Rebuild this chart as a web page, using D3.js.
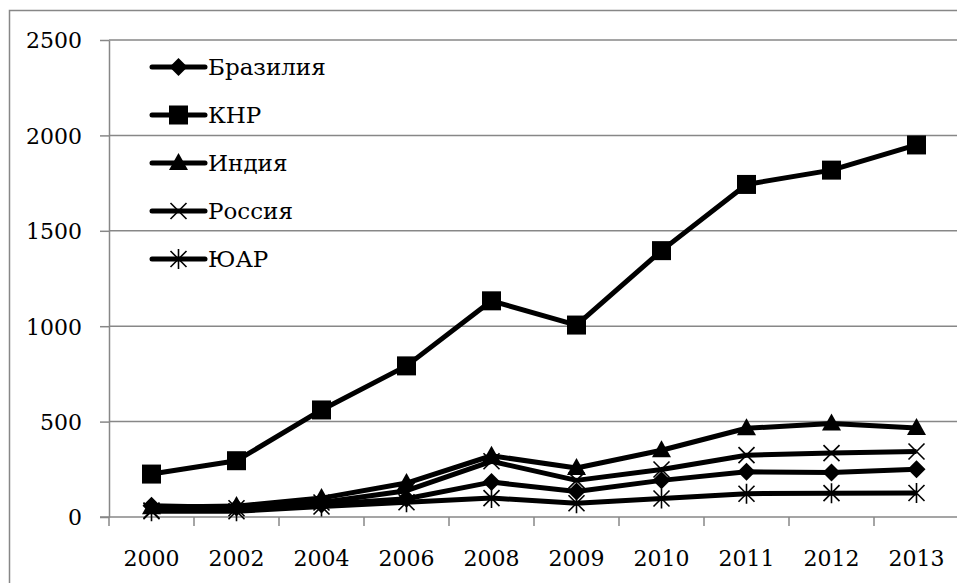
<!DOCTYPE html>
<html>
<head>
<meta charset="utf-8">
<script src="https://cdn.jsdelivr.net/npm/d3@7"></script>
<style>
  html, body { margin: 0; padding: 0; background: #fff; overflow: hidden; }
  text { font-family: "DejaVu Serif", serif; fill: #000; }
</style>
</head>
<body>
<svg id="chart" width="957" height="583"></svg>
<script>
// -------------------- DATA -------------------- //
const years = ["2000", "2002", "2004", "2006", "2008", "2009", "2010", "2011", "2012", "2013"];
const seriesNames = ["Бразилия", "КНР", "Индия", "Россия", "ЮАР"];
const brazil = [59, 50, 66, 96, 183, 134, 192, 237, 233, 250];
const china = [225, 295, 561, 792, 1133, 1006, 1396, 1743, 1818, 1950];
const india = [51, 57, 99, 178, 321, 257, 350, 465, 490, 466];
const russia = [34, 46, 76, 138, 292, 192, 249, 324, 335, 343];
const southAfrica = [30, 30, 55, 77, 99, 72, 97, 122, 125, 126];
const yTicks = [0, 500, 1000, 1500, 2000, 2500];
const markers = ["diamond", "square", "triangle", "cross", "asterisk"];

const series = [brazil, china, india, russia, southAfrica].map((vals, i) => ({
    name: seriesNames[i], marker: markers[i], values: vals
}));

// -------------------- SETUP -------------------- //
const svg = d3.select("#chart");
const GRID = "#878787";
const plotLeft = 109, plotTop = 40, plotBottom = 517, plotRight = 959;

const x = d3.scaleBand().domain(years).range([plotLeft, plotRight]);
const y = d3.scaleLinear().domain([0, 2500]).range([plotBottom, plotTop]);

// outer chart border
svg.append("rect")
    .attr("x", 9.5).attr("y", 10.5)
    .attr("width", 1000).attr("height", 700)
    .attr("fill", "none").attr("stroke", GRID).attr("stroke-width", 1.5);

// gridlines
svg.append("g").selectAll("line")
    .data(yTicks.filter(d => d > 0))
    .join("line")
    .attr("x1", plotLeft).attr("x2", 957)
    .attr("y1", d => y(d)).attr("y2", d => y(d))
    .attr("stroke", GRID).attr("stroke-width", 1.5);

// y axis
const yAxis = svg.append("g")
    .attr("transform", `translate(${plotLeft},0)`)
    .call(d3.axisLeft(y).tickValues(yTicks).tickFormat(d3.format("d"))
        .tickSize(9).tickPadding(18).tickSizeOuter(0));
yAxis.select(".domain").attr("stroke", GRID).attr("stroke-width", 1.5);
yAxis.selectAll(".tick line").attr("stroke", GRID).attr("stroke-width", 1.5);
yAxis.selectAll("text").style("font-size", "22px").attr("dy", "0.36em");

// x axis: line + ticks at category boundaries
const xAxis = svg.append("g")
    .attr("transform", `translate(0,${plotBottom})`)
    .call(d3.axisBottom(x).tickSize(0).tickPadding(33));
xAxis.select(".domain").remove();
xAxis.selectAll("text").style("font-size", "22px");
svg.append("line")
    .attr("x1", plotLeft - 9).attr("x2", 957)
    .attr("y1", plotBottom).attr("y2", plotBottom)
    .attr("stroke", GRID).attr("stroke-width", 1.5);
svg.append("g").selectAll("line")
    .data(years)
    .join("line")
    .attr("x1", d => x(d)).attr("x2", d => x(d))
    .attr("y1", plotBottom).attr("y2", plotBottom + 9)
    .attr("stroke", GRID).attr("stroke-width", 1.5);

// -------------------- MARKERS -------------------- //
function drawMarker(g, type, cx, cy) {
    if (type === "diamond") {
        g.append("path")
            .attr("d", `M${cx},${cy - 9}L${cx + 9},${cy}L${cx},${cy + 9}L${cx - 9},${cy}Z`)
            .attr("fill", "#000");
    } else if (type === "square") {
        g.append("rect").attr("x", cx - 9.5).attr("y", cy - 9.5)
            .attr("width", 19).attr("height", 19).attr("fill", "#000");
    } else if (type === "triangle") {
        g.append("path")
            .attr("d", `M${cx},${cy - 10}L${cx + 9.5},${cy + 7}L${cx - 9.5},${cy + 7}Z`)
            .attr("fill", "#000");
    } else if (type === "cross") {
        g.append("path")
            .attr("d", `M${cx - 8},${cy - 8}L${cx + 8},${cy + 8}M${cx - 8},${cy + 8}L${cx + 8},${cy - 8}`)
            .attr("stroke", "#000").attr("stroke-width", 1.6);
    } else if (type === "asterisk") {
        g.append("path")
            .attr("d", `M${cx - 8},${cy - 8}L${cx + 8},${cy + 8}M${cx - 8},${cy + 8}L${cx + 8},${cy - 8}M${cx},${cy - 10}L${cx},${cy + 10}`)
            .attr("stroke", "#000").attr("stroke-width", 1.6);
    }
}

// -------------------- LINES -------------------- //
const line = d3.line()
    .x((d, i) => x(years[i]) + x.bandwidth() / 2)
    .y(d => y(d));

series.forEach(s => {
    const g = svg.append("g");
    g.append("path")
        .attr("d", line(s.values))
        .attr("fill", "none").attr("stroke", "#000")
        .attr("stroke-width", 5).attr("stroke-linejoin", "round");
    s.values.forEach((v, i) => drawMarker(g, s.marker, x(years[i]) + x.bandwidth() / 2, y(v)));
});

// -------------------- LEGEND -------------------- //
const legend = svg.append("g");
series.forEach((s, i) => {
    const ly = 67 + i * 48;
    legend.append("line")
        .attr("x1", 152).attr("x2", 205)
        .attr("y1", ly).attr("y2", ly)
        .attr("stroke", "#000").attr("stroke-width", 5).attr("stroke-linecap", "round");
    drawMarker(legend, s.marker, 178.5, ly);
    legend.append("text")
        .attr("x", 208).attr("y", ly).attr("dy", "0.36em")
        .style("font-size", "23px")
        .text(s.name);
});
</script>
</body>
</html>
